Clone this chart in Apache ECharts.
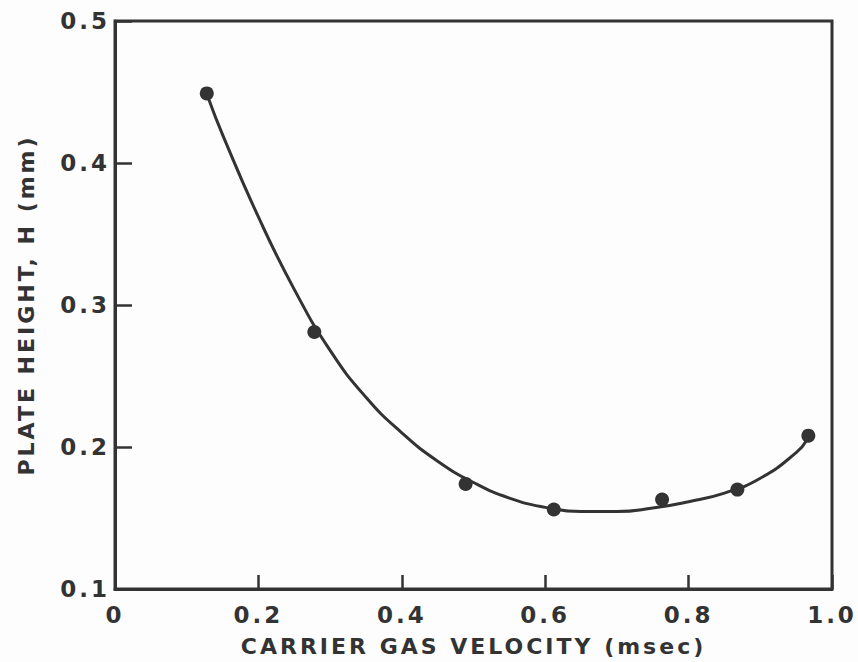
<!DOCTYPE html>
<html>
<head>
<meta charset="utf-8">
<script src="https://cdn.jsdelivr.net/npm/echarts@6/dist/echarts.min.js"></script>
<style>
html,body{margin:0;padding:0;background:#fdfdfd;}
#chart{width:858px;height:662px;}
#chart text{letter-spacing:3px;}
</style>
</head>
<body>
<div id="chart"></div>
<script>
// Measured points
var pointX = [0.128, 0.278, 0.489, 0.612, 0.763, 0.868, 0.967];
var pointY = [0.449, 0.281, 0.174, 0.156, 0.163, 0.170, 0.208];
// Fitted curve
var curveX = [0.130, 0.15, 0.20, 0.25, 0.30, 0.35, 0.40, 0.45, 0.50, 0.55, 0.60, 0.65, 0.70, 0.75, 0.80, 0.85, 0.90, 0.95, 0.965];
var curveY = [0.446, 0.420, 0.362, 0.311, 0.268, 0.235, 0.210, 0.190, 0.175, 0.164, 0.1575, 0.1545, 0.1545, 0.157, 0.1615, 0.1675, 0.178, 0.196, 0.205];
var xTicks = [0, 0.2, 0.4, 0.6, 0.8, 1.0];
var yTicks = [0.1, 0.2, 0.3, 0.4, 0.5];

var ink = '#333333';
var font = 'DejaVu Sans';

function zip(a, b) { return a.map(function (v, i) { return [v, b[i]]; }); }

var chart = echarts.init(document.getElementById('chart'), null, {renderer: 'svg'});
chart.setOption({
  backgroundColor: '#fdfdfd',
  animation: false,
  grid: {left: 115, right: 26, top: 21, bottom: 70, show: true, borderColor: ink, borderWidth: 3, backgroundColor: 'transparent'},
  xAxis: {
    type: 'value', min: xTicks[0], max: xTicks[xTicks.length - 1], interval: 0.2,
    name: 'CARRIER GAS VELOCITY (msec)', nameLocation: 'middle', nameGap: 46,
    nameTextStyle: {color: ink, fontFamily: font, fontSize: 22, fontWeight: 'bold'},
    axisLine: {lineStyle: {color: ink, width: 3}},
    axisTick: {inside: true, length: 14, lineStyle: {color: ink, width: 2.5}},
    splitLine: {show: false},
    axisLabel: {color: ink, fontFamily: font, fontSize: 23, fontWeight: 'bold', margin: 14,
      formatter: function (v) { return v === 0 ? '0' : v.toFixed(1); }}
  },
  yAxis: {
    type: 'value', min: yTicks[0], max: yTicks[yTicks.length - 1], interval: 0.1,
    name: 'PLATE HEIGHT, H (mm)', nameLocation: 'middle', nameGap: 78,
    nameTextStyle: {color: ink, fontFamily: font, fontSize: 22, fontWeight: 'bold'},
    axisLine: {lineStyle: {color: ink, width: 3}},
    axisTick: {inside: true, length: 17, lineStyle: {color: ink, width: 2.5}},
    splitLine: {show: false},
    axisLabel: {color: ink, fontFamily: font, fontSize: 23, fontWeight: 'bold', margin: 5,
      formatter: function (v) { return v.toFixed(1); }}
  },
  series: [
    {type: 'line', data: zip(curveX, curveY), smooth: 0.5, showSymbol: false,
     lineStyle: {color: ink, width: 3}, z: 2},
    {type: 'scatter', data: zip(pointX, pointY), symbol: 'circle', symbolSize: 14,
     itemStyle: {color: ink, opacity: 1}, z: 3}
  ]
});
</script>
</body>
</html>
